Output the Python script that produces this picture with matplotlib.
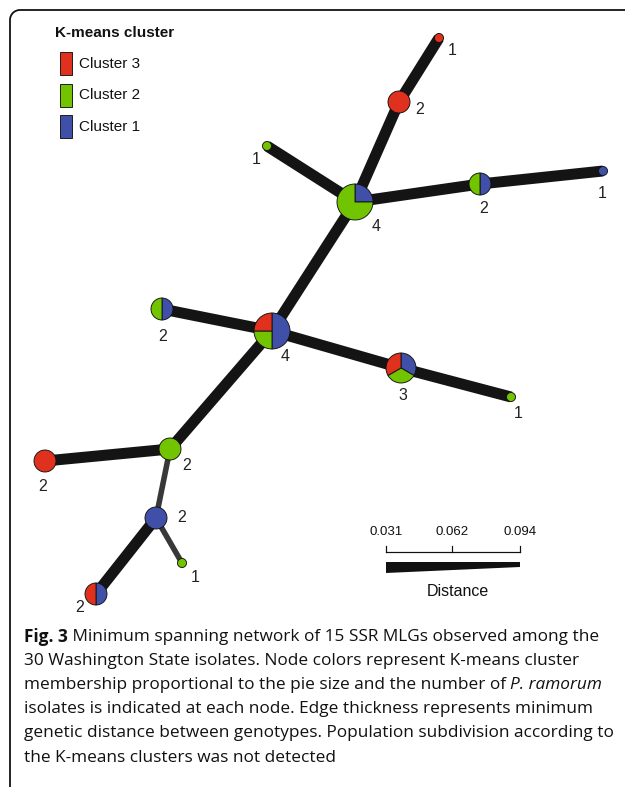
import matplotlib
matplotlib.use("Agg")
import matplotlib.pyplot as plt
from matplotlib.patches import Wedge, Rectangle, Polygon, Arc

# node layout (pixel positions) and isolate counts per cluster [cluster1, cluster2, cluster3]
node_x = [439, 399, 355, 267, 480, 603, 272, 162, 401, 511, 170, 45, 156, 182, 96]
node_y = [38, 102, 202, 146, 184, 171, 331, 309, 368, 397, 449, 461, 518, 563, 594]
counts = [
    [0, 0, 1],  # top red
    [0, 0, 2],
    [1, 3, 0],  # hub 4
    [0, 1, 0],
    [1, 1, 0],
    [1, 0, 0],
    [2, 1, 1],  # central 4
    [1, 1, 0],
    [1, 1, 1],  # 3
    [0, 1, 0],
    [0, 2, 0],
    [0, 0, 2],
    [2, 0, 0],
    [0, 1, 0],
    [1, 0, 1],
]
# where each node label sits, relative to the node
label_dx = [13, 21, 21, -11, 4, -1, 13, 1, 2, 7, 17, -2, 26, 13, -16]
label_dy = [12, 7, 24, 13, 24, 22, 25, 27, 27, 16, 16, 25, -1, 14, 13]

edges = [(0, 1), (1, 2), (2, 3), (2, 4), (4, 5), (2, 6), (6, 7), (6, 8),
         (8, 9), (6, 10), (10, 11), (10, 12), (12, 13), (12, 14)]
edge_dist = [0.031, 0.031, 0.031, 0.031, 0.031, 0.031, 0.031, 0.031,
             0.031, 0.031, 0.031, 0.088, 0.088, 0.031]

scale_ticks = [0.031, 0.062, 0.094]
cluster_names = ["Cluster 1", "Cluster 2", "Cluster 3"]
cluster_colors = ["#4050a8", "#72c300", "#e0301e"]

caption = [
    ("Fig. 3", " Minimum spanning network of 15 SSR MLGs observed among the", None),
    ("", "30 Washington State isolates. Node colors represent K-means cluster", None),
    ("", "membership proportional to the pie size and the number of ", "P. ramorum"),
    ("", "isolates is indicated at each node. Edge thickness represents minimum", None),
    ("", "genetic distance between genotypes. Population subdivision according to", None),
    ("", "the K-means clusters was not detected", None),
]

radius_for = {1: 4.5, 2: 11, 3: 15, 4: 18}
PT = 0.72  # points per pixel at dpi 100

def dist_to_px(d):
    return 11 - (d - 0.031) / (0.094 - 0.031) * 6

fig = plt.figure(figsize=(6.25, 7.89), dpi=100)
ax = fig.add_axes([0, 0, 1, 1])
ax.set_xlim(0, 625)
ax.set_ylim(789, 0)
ax.axis("off")

# frame (top + left with rounded corner)
ax.plot([20, 625], [10, 10], color="#111", lw=1.8 * PT, solid_capstyle="butt")
ax.plot([10, 10], [20, 787], color="#111", lw=1.8 * PT, solid_capstyle="butt")
ax.add_patch(Arc((20, 20), 20, 20, theta1=180, theta2=270, color="#111", lw=1.8 * PT))

# edges
for (a, b), d in zip(edges, edge_dist):
    col = "#141414" if d < 0.05 else "#383838"
    ax.plot([node_x[a], node_x[b]], [node_y[a], node_y[b]], color=col,
            lw=dist_to_px(d) * PT, solid_capstyle="butt", zorder=1)

# pie nodes
for i in range(len(node_x)):
    n = sum(counts[i])
    r = radius_for[n]
    start = -90
    for k in range(3):
        if counts[i][k] == 0:
            continue
        span = 360 * counts[i][k] / n
        ax.add_patch(Wedge((node_x[i], node_y[i]), r, start, start + span,
                           facecolor=cluster_colors[k], edgecolor="#111",
                           lw=0.9 * PT, zorder=3))
        start += span
    ax.text(node_x[i] + label_dx[i], node_y[i] + label_dy[i], str(n),
            ha="center", va="center", fontsize=11.5, family="Liberation Sans",
            color="#222", zorder=4)

# legend
ax.text(55, 33, "K-means cluster", fontsize=11, fontweight="bold",
        family="Liberation Sans", va="center", ha="left", color="#111")
for j, k in enumerate([2, 1, 0]):
    y0 = 52 + j * 31.5
    ax.add_patch(Rectangle((60, y0), 12, 23, facecolor=cluster_colors[k],
                           edgecolor="#111", lw=0.9 * PT))
    ax.text(79, y0 + 11.5, cluster_names[k], fontsize=11, family="Liberation Sans",
            va="center", ha="left", color="#111")

# distance scale
sx0, sx1 = 386, 520
def scale_x(v):
    return sx0 + (v - scale_ticks[0]) / (scale_ticks[-1] - scale_ticks[0]) * (sx1 - sx0)

ax.plot([sx0, sx1], [552, 552], color="#111", lw=1.2 * PT)
for v in scale_ticks:
    ax.plot([scale_x(v)] * 2, [546, 552], color="#111", lw=1.2 * PT)
    ax.text(scale_x(v), 532, f"{v:.3f}", ha="center", va="center", fontsize=9.5,
            family="Liberation Sans", color="#111")
ax.add_patch(Polygon([[sx0, 562], [sx1, 562],
                      [sx1, 562 + dist_to_px(scale_ticks[-1])],
                      [sx0, 562 + dist_to_px(scale_ticks[0])]],
                     closed=True, facecolor="#111", edgecolor="none"))
ax.text(458, 592, "Distance", ha="center", va="center", fontsize=11.5,
        family="Liberation Sans", color="#111")

# caption
renderer = fig.canvas.get_renderer()
cap_fs = 12.45
for li, (bold, plain, ital) in enumerate(caption):
    y = 637 + li * 24.1
    x = 24
    for txt, kw in ((bold, dict(fontweight="bold")), (plain, {}), (ital, dict(style="italic"))):
        if not txt:
            continue
        t = ax.text(x, y, txt, ha="left", va="center", fontsize=cap_fs,
                    family="Open Sans", color="#111", **kw)
        bb = t.get_window_extent(renderer)
        x += bb.width

fig.savefig("out.png", dpi=100)
